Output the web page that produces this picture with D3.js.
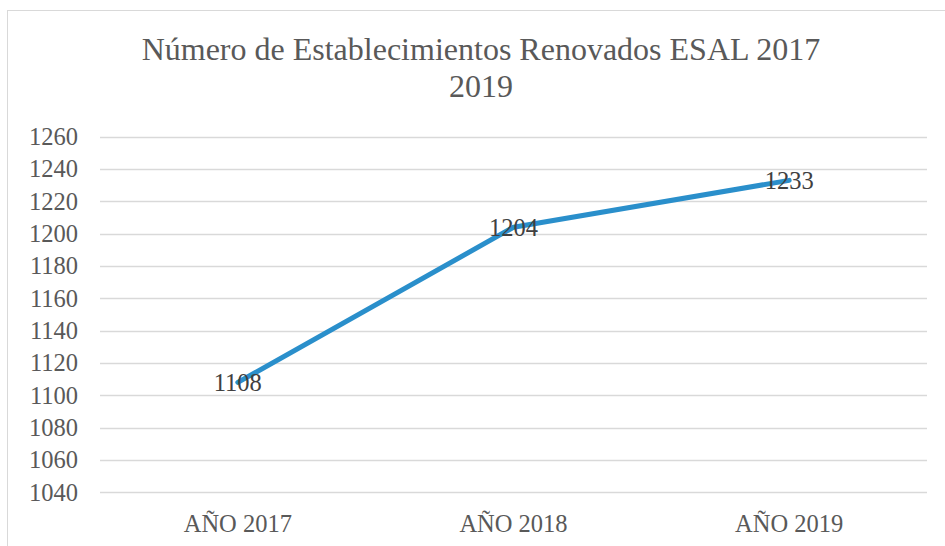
<!DOCTYPE html>
<html>
<head>
  <meta charset="utf-8">
  <script src="https://d3js.org/d3.v7.min.js"></script>
  <style>
    body { margin: 0; background: #fff; }
    svg { display: block; }
    text { font-family: "Liberation Serif", "Times New Roman", serif; }
  </style>
</head>
<body>
<script>
  var categories = ["AÑO 2017", "AÑO 2018", "AÑO 2019"];
  var values = [1108, 1204, 1233];
  var yTicks = [1040, 1060, 1080, 1100, 1120, 1140, 1160, 1180, 1200, 1220, 1240, 1260];
  var titleLines = ["Número de Establecimientos Renovados ESAL 2017", "2019"];

  var width = 945, height = 546;
  var plotLeft = 100, plotRight = 927, plotTop = 136.7, plotBottom = 492.3;

  var svg = d3.select("body").append("svg")
      .attr("width", width)
      .attr("height", height);

  // chart frame
  svg.append("rect")
      .attr("x", 7.5).attr("y", 10.5)
      .attr("width", 945).attr("height", 545)
      .attr("fill", "#fff")
      .attr("stroke", "#d9d9d9");

  var x = d3.scaleBand().domain(categories).range([plotLeft, plotRight]);
  var y = d3.scaleLinear().domain([1040, 1260]).range([plotBottom, plotTop]);

  // gridlines
  svg.append("g").selectAll("line")
      .data(yTicks)
      .enter().append("line")
      .attr("x1", plotLeft).attr("x2", plotRight)
      .attr("y1", function(d) { return Math.round(y(d)) + 0.5; })
      .attr("y2", function(d) { return Math.round(y(d)) + 0.5; })
      .attr("stroke", "#d9d9d9")
      .attr("stroke-width", 1.3);

  // y axis labels
  var yAxis = d3.axisLeft(y).tickValues(yTicks).tickFormat(d3.format("d")).tickSize(0).tickPadding(22);
  var gy = svg.append("g").attr("transform", "translate(" + plotLeft + ",0)").call(yAxis);
  gy.select(".domain").remove();
  gy.selectAll("text")
      .attr("fill", "#595959")
      .style("font-size", "24.5px")
      .style("font-family", "'Liberation Serif', serif");

  // x axis labels
  var xAxis = d3.axisBottom(x).tickSize(0).tickPadding(22);
  var gx = svg.append("g").attr("transform", "translate(0," + plotBottom + ")").call(xAxis);
  gx.select(".domain").remove();
  gx.selectAll("text")
      .attr("fill", "#595959")
      .style("font-size", "24.5px")
      .style("font-family", "'Liberation Serif', serif");

  // title
  svg.append("text")
      .attr("text-anchor", "middle")
      .attr("fill", "#595959")
      .style("font-size", "32px")
      .selectAll("tspan")
      .data(titleLines)
      .enter().append("tspan")
      .attr("x", 481)
      .attr("y", function(d, i) { return 60 + i * 37; })
      .text(function(d) { return d; });

  // line
  var line = d3.line()
      .x(function(d, i) { return x(categories[i]) + x.bandwidth() / 2; })
      .y(function(d) { return y(d); });

  svg.append("path")
      .datum(values)
      .attr("d", line)
      .attr("fill", "none")
      .attr("stroke", "#2a8fcb")
      .attr("stroke-width", 5)
      .attr("stroke-linecap", "round")
      .attr("stroke-linejoin", "round");

  // data labels
  svg.append("g").selectAll("text")
      .data(values)
      .enter().append("text")
      .attr("x", function(d, i) { return x(categories[i]) + x.bandwidth() / 2; })
      .attr("y", function(d) { return y(d); })
      .attr("dy", "0.35em")
      .attr("text-anchor", "middle")
      .attr("fill", "#404040")
      .style("font-size", "24.5px")
      .text(function(d) { return d; });
</script>
</body>
</html>
